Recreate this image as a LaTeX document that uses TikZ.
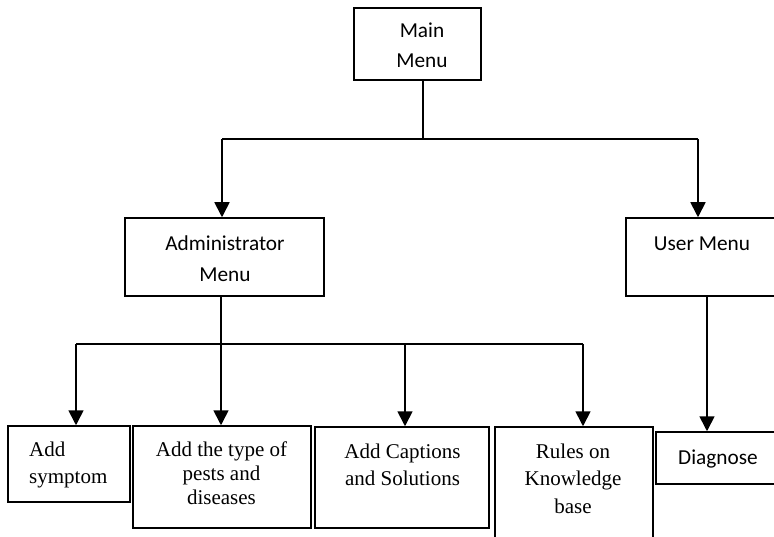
\documentclass[tikz,border=0pt]{standalone}
\usepackage{fontspec}
\setmainfont{Liberation Serif}
\newfontfamily\menufont{Carlito}
\usetikzlibrary{arrows.meta}

\tikzset{
  box/.style={draw, line width=1.5pt, rectangle, inner sep=0pt},
  menutext/.style={font=\menufont\fontsize{21.3}{31}\selectfont, align=center, anchor=base, inner sep=0pt},
  itemtext/.style={font=\fontsize{21}{27}\selectfont, align=center, anchor=base, inner sep=0pt},
  wire/.style={line width=1.7pt},
  arrow/.style={line width=1.7pt, -{Triangle[width=15pt,length=15pt]}}
}

\begin{document}
\begin{tikzpicture}[x=1pt,y=-1pt]
  \useasboundingbox (0,0) rectangle (774,537);
  \clip (0,0) rectangle (774,537);

  % menu boxes
  \node[box, minimum width=127pt, minimum height=72pt] (main) at (417.5,44) {};
  \node[box, minimum width=199pt, minimum height=78pt] (admin) at (224.5,257) {};
  \node[box, minimum width=154pt, minimum height=78pt] (user) at (703,257) {};

  % item boxes
  \node[box, minimum width=122pt, minimum height=76pt] (sym) at (69,464) {};
  \node[box, minimum width=178pt, minimum height=102pt] (pests) at (222,477) {};
  \node[box, minimum width=174pt, minimum height=101pt] (capt) at (402,477.5) {};
  \node[box, minimum width=158pt, minimum height=120pt] (rules) at (574,487) {};
  \node[box, minimum width=126pt, minimum height=52pt] (diag) at (719,458) {};

  % labels (a multi-line node sits on the baseline of its last line)
  \node[menutext, font=\menufont\fontsize{21.3}{30}\selectfont] (mainT) at (422,68) {Main\\Menu};
  \node[menutext] (adminT) at (225,282) {Administrator\\Menu};
  \node[menutext] (userT) at (702,251) {User Menu};
  \node[menutext] (diagT) at (718,464) {Diagnose};
  \node[itemtext, align=left, anchor=base west] (symT) at (29,483.5) {Add\\symptom};
  \node[itemtext, font=\fontsize{21}{24}\selectfont] (pestsT) at (221.5,504) {Add the type of\\pests and\\diseases};
  \node[itemtext] (captT) at (402.5,485) {Add Captions\\and Solutions};
  \node[itemtext, font=\fontsize{21}{27.5}\selectfont] (rulesT) at (573,513) {Rules on\\Knowledge\\base};

  % junction points of the connector buses
  \coordinate (top) at (423,139);
  \coordinate (tl) at (222,139);
  \coordinate (tr) at (698,139);
  \coordinate (mid) at (221,344);
  \coordinate (b1) at (76,344);
  \coordinate (b3) at (405,344);
  \coordinate (b4) at (583,344);
  \coordinate (uq) at (707,296);

  % main menu branches
  \draw[wire] (main.south -| top) -- (top);
  \draw[wire] (tl) -- (tr);
  \draw[arrow] (tl) -- (tl |- admin.north);
  \draw[arrow] (tr) -- (tr |- user.north);

  % administrator branches
  \draw[wire] (admin.south -| mid) -- (mid);
  \draw[wire] (b1) -- (b4);
  \draw[arrow] (b1) -- (b1 |- sym.north);
  \draw[arrow] (mid) -- (mid |- pests.north);
  \draw[arrow] (b3) -- (b3 |- capt.north);
  \draw[arrow] (b4) -- (b4 |- rules.north);

  % user branch
  \draw[arrow] (uq |- user.south) -- (uq |- diag.north);
\end{tikzpicture}
\end{document}
